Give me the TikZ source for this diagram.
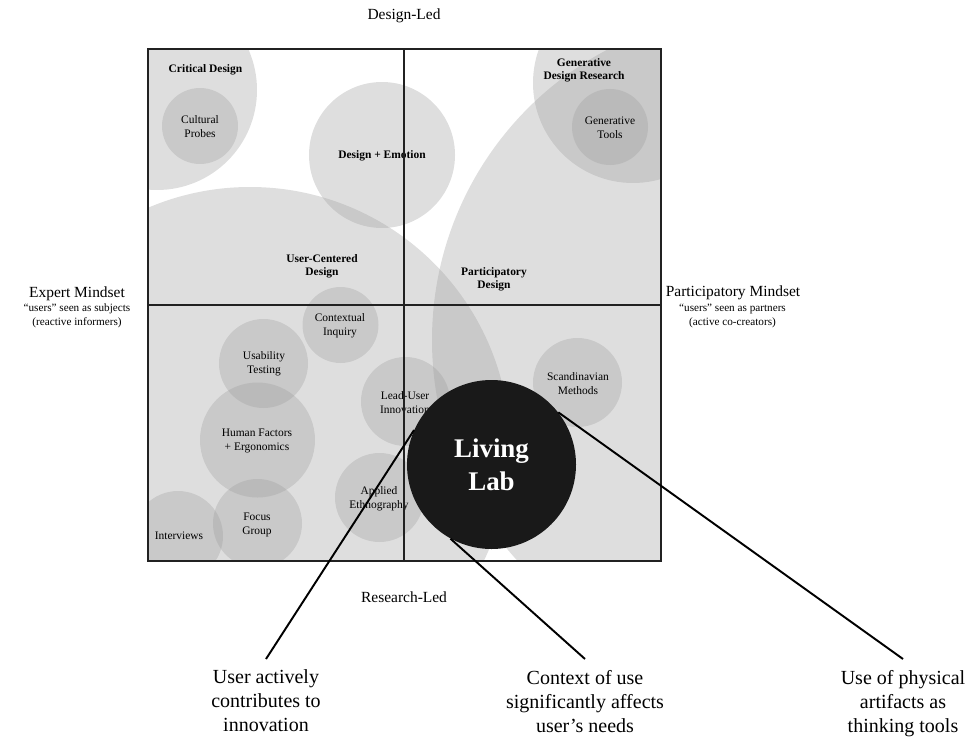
\documentclass[tikz,border=0pt]{standalone}
\usepackage{fontspec}
\setmainfont{Liberation Serif}
\definecolor{bubblegray}{gray}{0.61}
\definecolor{labdark}{gray}{0.1}
\definecolor{frame}{gray}{0.13}
\begin{document}
\begin{tikzpicture}[x=0.75pt,y=-0.75pt,
  bubble/.style={fill=bubblegray, fill opacity=0.33},
  lbl/.style={align=center, font=\fontsize{8.6}{10.5}\selectfont, inner sep=0pt},
  blbl/.style={align=center, font=\fontsize{8.6}{10}\selectfont\bfseries, inner sep=0pt},
  axis/.style={align=center, font=\fontsize{11.6}{14}\selectfont, inner sep=0pt},
  subnote/.style={align=center, font=\fontsize{8.4}{10.5}\selectfont, inner sep=0pt},
  claim/.style={align=center, font=\fontsize{15}{18}\selectfont, inner xsep=0pt, inner ysep=8pt, anchor=north},
  connector/.style={line width=1.45pt, black},
]
\useasboundingbox (0,0) rectangle (969,738);

% translucent bubbles, clipped to the map frame
\begin{scope}
  \clip (148,49) rectangle (661,561);
  \fill[bubble] (157,90) circle[radius=100];      % Critical Design
  \fill[bubble] (200,126) circle[radius=38];      % Cultural Probes
  \fill[bubble] (382,155) circle[radius=73];      % Design + Emotion
  \fill[bubble] (633,83) circle[radius=100];      % Generative Design Research
  \fill[bubble] (610,127) circle[radius=38];      % Generative Tools
  \fill[bubble] (250,447) circle[radius=260];     % User-Centered Design
  \fill[bubble] (760,340) circle[radius=328];     % Participatory Design
  \fill[bubble] (340.5,325) circle[radius=38];    % Contextual Inquiry
  \fill[bubble] (263.5,363.5) circle[radius=44.5];% Usability Testing
  \fill[bubble] (257.5,440) circle[radius=57.5];  % Human Factors
  \fill[bubble] (257.5,523.5) circle[radius=44.5];% Focus Group
  \fill[bubble] (178,536) circle[radius=45];      % Interviews
  \fill[bubble] (405.5,401.5) circle[radius=44.5];% Lead-User Innovation
  \fill[bubble] (379.5,497.5) circle[radius=44.5];% Applied Ethnography
  \fill[bubble] (577.5,382.5) circle[radius=44.5];% Scandinavian Methods
\end{scope}

% bubble labels
\node[blbl] (critical) at (205.5,70) {Critical Design};
\node[lbl] (probes) at (200,127) {Cultural\\Probes};
\node[blbl] (emotion) at (382,156) {Design + Emotion};
\node[blbl] (generative) at (584,70.5) {Generative\\Design Research};
\node[lbl] (gentools) at (610,128) {Generative\\Tools};
\node[blbl] (ucd) at (322,266.5) {User-Centered\\Design};
\node[blbl] (pd) at (494,279.5) {Participatory\\Design};
\node[lbl] (inquiry) at (340,326) {Contextual\\Inquiry};
\node[lbl] (usability) at (264,364) {Usability\\Testing};
\node[lbl] (factors) at (257,441) {Human Factors\\+ Ergonomics};
\node[lbl] (focus) at (257,524.5) {Focus\\Group};
\node[lbl] (interviews) at (179,536) {Interviews};
\node[lbl] (leaduser) at (405,402.5) {Lead-User\\Innovation};
\node[lbl] (ethno) at (379,499) {Applied\\Ethnography};
\node[lbl] (scandi) at (578,384) {Scandinavian\\Methods};

% map frame and axes
\draw[frame, line width=0.8pt] (404,49) -- (404,561);
\draw[frame, line width=0.8pt] (148,305) -- (661,305);
\draw[frame, line width=1.4pt] (148,49) rectangle (661,561);

% axis captions
\node[axis] (designled) at (404,16) {Design-Led};
\node[axis] (researchled) at (404,597.5) {Research-Led};
\node[axis] (expert) at (77,294) {Expert Mindset};
\node[subnote] (expertsub) at (77,315.5) {“users” seen as subjects\\(reactive informers)};
\node[axis] (partmind) at (733,293) {Participatory Mindset};
\node[subnote] (partsub) at (732.5,315.5) {“users” seen as partners\\(active co-creators)};

% Living Lab and its three characteristics
\node[circle, fill=labdark, minimum size=126.75pt, inner sep=0pt, text=white,
      align=center, font=\fontsize{20.2}{25}\selectfont\bfseries] (lab) at (491.5,464.5) {Living\\Lab};

\node[claim] (c1) at (266,659) {User actively\\contributes to\\innovation};
\node[claim] (c2) at (585,659) {Context of use\\significantly affects\\user’s needs};
\node[claim] (c3) at (903,659) {Use of physical\\artifacts as\\thinking tools};

\draw[connector] (lab.156) -- (c1.north);
\draw[connector] (lab.241) -- (c2.north);
\draw[connector] (lab.38) -- (c3.north);
\end{tikzpicture}
\end{document}
